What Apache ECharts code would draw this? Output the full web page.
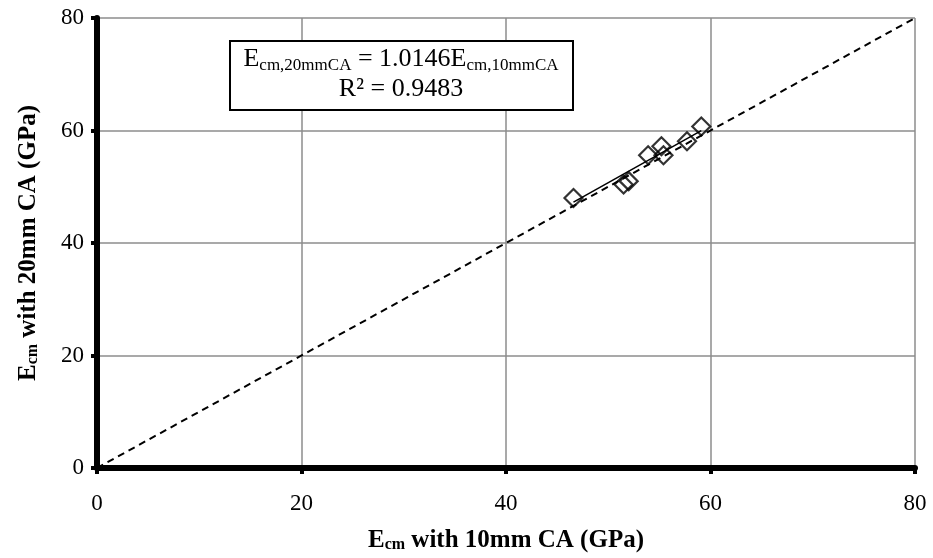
<!DOCTYPE html>
<html>
<head>
<meta charset="utf-8">
<script src="https://cdn.jsdelivr.net/npm/echarts@6/dist/echarts.min.js"></script>
<style>
  html, body { margin: 0; padding: 0; background: #fff; }
  #chart { width: 933px; height: 558px; }
</style>
</head>
<body>
<div id="chart"></div>
<script>
// Ecm with 10mm CA (x) vs Ecm with 20mm CA (y), GPa
const ecm10 = [46.6, 51.5, 52.0, 53.9, 55.2, 55.4, 57.7, 59.1];
const ecm20 = [48.0, 50.4, 51.0, 55.6, 57.2, 55.6, 58.1, 60.7];
const trendSlope = 1.0146;
const rSquared = 0.9483;
const axisTicks = [0, 20, 40, 60, 80];

const serif = "'Liberation Serif', 'DejaVu Serif', serif";

const points = ecm10.map((x, i) => [x, ecm20[i]]);
const xMin = Math.min(...ecm10), xMax = Math.max(...ecm10);
const trend = [[xMin, trendSlope * xMin], [xMax, trendSlope * xMax]];
const lo = axisTicks[0], hi = axisTicks[axisTicks.length - 1];
const equality = [[lo, lo], [hi, hi]];

function axisCfg(name, isY) {
  return {
    type: 'value',
    min: lo,
    max: hi,
    interval: 20,
    name: name,
    nameLocation: 'middle',
    nameGap: isY ? 56 : 60,
    nameTextStyle: {
      color: '#000',
      rich: {
        b: { fontFamily: serif, fontSize: 25, fontWeight: 'bold', color: '#000' },
        s: { fontFamily: serif, fontSize: 16, fontWeight: 'bold', color: '#000',
             verticalAlign: 'bottom', lineHeight: 14 }
      }
    },
    axisLine: { show: true, onZero: false, lineStyle: { color: '#000', width: 6 } },
    axisTick: { show: true, inside: false, length: 6, lineStyle: { color: '#000', width: 4 } },
    axisLabel: {
      color: '#000', fontFamily: serif, fontSize: 23,
      margin: isY ? 13 : 24
    },
    splitLine: { show: true, lineStyle: { color: '#8c8c8c', width: 1.5 } }
  };
}

const chart = echarts.init(document.getElementById('chart'));
chart.setOption({
  backgroundColor: '#fff',
  animation: false,
  grid: { left: 97, right: 18, top: 18, bottom: 89, show: false },
  xAxis: axisCfg('{b|E}{s|cm}{b| with 10mm CA (GPa)}', false),
  yAxis: axisCfg('{b|E}{s|cm}{b| with 20mm CA (GPa)}', true),
  series: [
    {
      type: 'line',
      data: equality,
      showSymbol: false,
      lineStyle: { color: '#000', width: 2, type: [7, 5] },
      z: 2
    },
    {
      type: 'scatter',
      data: points,
      symbol: 'diamond',
      symbolSize: 18,
      itemStyle: { color: 'rgba(255,255,255,0)', borderColor: '#000', borderWidth: 2.2 },
      z: 3
    },
    {
      type: 'line',
      data: trend,
      showSymbol: false,
      lineStyle: { color: '#000', width: 1.5 },
      z: 4
    }
  ],
  graphic: [
    {
      type: 'rect',
      shape: { x: 230, y: 41, width: 343, height: 69 },
      style: { fill: '#fff', stroke: '#000', lineWidth: 2 },
      z: 10
    },
    {
      type: 'text',
      x: 401,
      y: 44,
      z: 11,
      style: {
        text: '{n|E}{s|cm,20mmCA}{n| = ' + trendSlope.toFixed(4) + 'E}{s|cm,10mmCA}\n{n|R² = ' + rSquared.toFixed(4) + '}',
        align: 'center',
        fill: '#000',
        rich: {
          n: { fontFamily: serif, fontSize: 26, lineHeight: 30, color: '#000' },
          s: { fontFamily: serif, fontSize: 17, lineHeight: 15, color: '#000', verticalAlign: 'bottom' }
        }
      }
    }
  ]
});
</script>
</body>
</html>
